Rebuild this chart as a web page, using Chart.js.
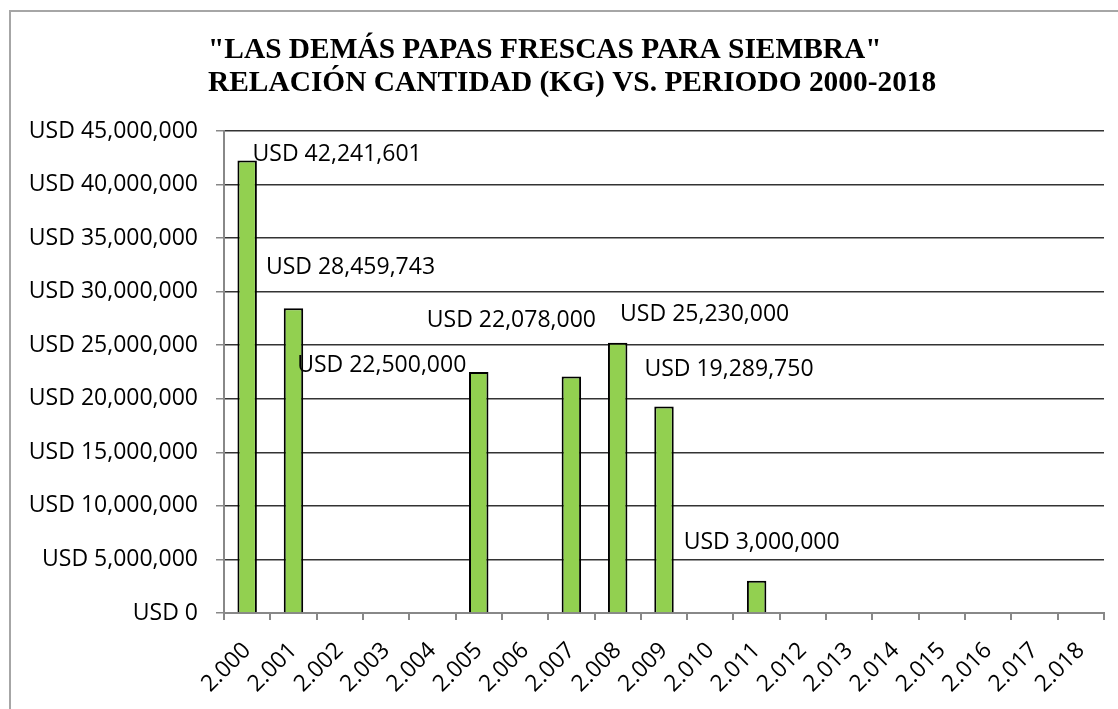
<!DOCTYPE html>
<html lang="es">
<head>
<meta charset="UTF-8">
<title>Las demás papas frescas para siembra</title>
<script src="https://cdn.jsdelivr.net/npm/chart.js@4.4.1/dist/chart.umd.min.js"></script>
<style>
  body { margin: 0; background: #fff; }
  #wrap { position: relative; width: 1118px; height: 709px; }
  #frame { position: absolute; left: 9px; top: 10px; right: -5px; bottom: -5px; border-left: 2px solid #a6a6a6; border-top: 2px solid #a6a6a6; }
  canvas { position: absolute; left: 0; top: 0; }
</style>
</head>
<body>
<div id="wrap">
  <div id="frame"></div>
  <canvas id="chart" width="1118" height="709"></canvas>
</div>
<script>
const years = ['2.000','2.001','2.002','2.003','2.004','2.005','2.006','2.007','2.008','2.009',
               '2.010','2.011','2.012','2.013','2.014','2.015','2.016','2.017','2.018'];
const valores = [42241601, 28459743, null, null, null, 22500000, null, 22078000, 25230000, 19289750,
                 null, 3000000, null, null, null, null, null, null, null];
const titleLines = ['"LAS DEMÁS PAPAS FRESCAS PARA SIEMBRA"', 'RELACIÓN CANTIDAD (KG) VS. PERIODO 2000-2018'];
// where each value label sits, relative to the top of its bar
const labelShift = [[90,-6],[57,-41],null,null,null,[-97,-7],null,[-60,-56],[87,-28],[65,-37],
                    null,[5,-38],null,null,null,null,null,null,null];

const usd = v => 'USD ' + Number(v).toLocaleString('en-US');
const labelFont = '23px "Open Sans"';

const extras = {
  id: 'extras',
  afterDraw(chart) {
    const ctx = chart.ctx;
    ctx.save();
    // title, left aligned like the original
    ctx.fillStyle = '#000';
    ctx.font = 'bold 29.4px "Liberation Serif"';
    ctx.textAlign = 'left';
    ctx.textBaseline = 'alphabetic';
    ctx.fillText(titleLines[0], 208, 58);
    ctx.fillText(titleLines[1], 208, 91);
    // data labels
    ctx.font = labelFont;
    ctx.textAlign = 'center';
    ctx.textBaseline = 'middle';
    chart.getDatasetMeta(0).data.forEach((bar, i) => {
      const v = valores[i];
      const s = labelShift[i];
      if (v == null || !s) return;
      ctx.fillText(usd(v), bar.x + s[0], bar.y + s[1]);
    });
    ctx.restore();
  }
};

new Chart(document.getElementById('chart'), {
  type: 'bar',
  data: {
    labels: years,
    datasets: [{
      data: valores,
      backgroundColor: '#92d050',
      borderColor: '#000',
      borderWidth: 2,
      categoryPercentage: 1,
      barPercentage: 0.42
    }]
  },
  options: {
    responsive: false,
    animation: false,
    layout: { padding: { top: 131, right: 14, bottom: 0, left: 0 } },
    plugins: { legend: { display: false }, tooltip: { enabled: false } },
    scales: {
      x: {
        afterFit: s => { s.height = 96; },
        grid: {
          offset: true,
          color: c => c.index === years.length ? '#333' : 'rgba(0,0,0,0)',
          tickColor: '#888',
          tickLength: 7,
          lineWidth: 2
        },
        border: { color: '#888', width: 2 },
        ticks: {
          autoSkip: false,
          minRotation: 45,
          maxRotation: 45,
          color: '#000',
          font: { family: 'Open Sans', size: 23 },
          padding: 17
        }
      },
      y: {
        min: 0,
        max: 45000000,
        afterFit: s => { s.width = 224; },
        grid: { color: '#333', tickColor: '#888', tickLength: 8, lineWidth: 1.5 },
        border: { color: '#888', width: 2 },
        ticks: {
          stepSize: 5000000,
          color: '#000',
          padding: 18,
          font: { family: 'Open Sans', size: 23 },
          callback: v => usd(v)
        }
      }
    }
  },
  plugins: [extras]
});
</script>
</body>
</html>
